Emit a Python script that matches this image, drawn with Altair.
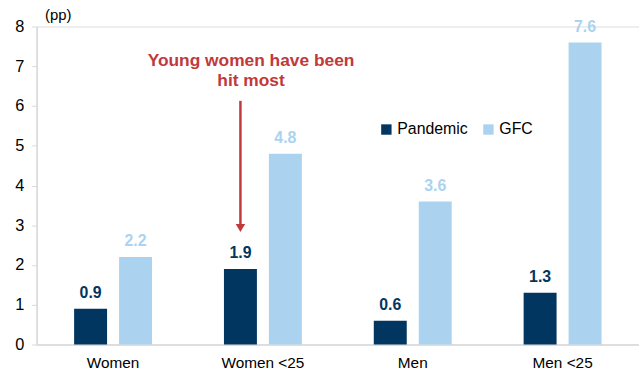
import altair as alt
import pandas as pd

categories = ["Women", "Women <25", "Men", "Men <25"]
series = ["Pandemic", "GFC"]
pandemic = [0.9, 1.9, 0.6, 1.3]
gfc = [2.2, 4.8, 3.6, 7.6]
colors = ["#003660", "#abd3f0"]

rows = []
for c, p, g in zip(categories, pandemic, gfc):
    rows.append({"cat": c, "series": "Pandemic", "value": p, "label": f"{p:.1f}"})
    rows.append({"cat": c, "series": "GFC", "value": g, "label": f"{g:.1f}"})
df = pd.DataFrame(rows)

FONT = "Liberation Sans"

x_enc = alt.X("cat:N", sort=categories,
              scale=alt.Scale(paddingInner=0.48, paddingOuter=0.25),
              axis=alt.Axis(title=None, labelAngle=0, ticks=False, domainColor="#d9d9d9",
                            domainWidth=1.5, labelFontSize=15.5, labelFont=FONT,
                            labelColor="#000000", labelPadding=11))
xoff = alt.XOffset("series:N", sort=series,
                   scale=alt.Scale(paddingInner=0.267, paddingOuter=0))
y_scale = alt.Scale(domain=[0, 8])
color_enc = alt.Color("series:N", sort=series,
                      scale=alt.Scale(domain=series, range=colors),
                      legend=alt.Legend(title=None, orient="none", legendX=345, legendY=96,
                                        direction="horizontal", symbolType="square",
                                        symbolSize=110, symbolStrokeWidth=0,
                                        labelFontSize=16, labelFont=FONT, labelColor="#000000",
                                        columnPadding=12, labelOffset=3))

bars = alt.Chart(df).mark_bar().encode(
    x=x_enc, xOffset=xoff,
    y=alt.Y("value:Q", scale=y_scale,
            axis=alt.Axis(title="(pp)", titleAngle=0, titleAlign="left", titleX=8, titleY=-4,
                          titleFontWeight="normal", titleFontSize=15, titleFont=FONT,
                          titleColor="#000000", grid=False, values=list(range(9)),
                          tickColor="#d9d9d9", tickSize=5, domainColor="#d9d9d9",
                          domainWidth=1.5, labelFontSize=16.5, labelFont=FONT,
                          labelColor="#000000", labelPadding=8)),
    color=color_enc,
)

labels = alt.Chart(df).mark_text(fontWeight="bold", fontSize=16, font=FONT, dy=-16).encode(
    x=alt.X("cat:N", sort=categories), xOffset=xoff,
    y=alt.Y("value:Q", scale=y_scale),
    text="label:N",
    color=alt.Color("series:N", sort=series, scale=alt.Scale(domain=series, range=colors), legend=None),
)

ann_df = pd.DataFrame({"cat": ["Women <25"], "series": ["Pandemic"], "y": [7.12],
                       "y1": [6.13], "y2": [3.0], "tip": [2.93],
                       "text": [["Young women have been", "hit most"]]})

ann_text = alt.Chart(ann_df).mark_text(color="#c0393b", fontWeight="bold", fontSize=17.5,
                                       font=FONT, dx=-12, lineHeight=20, baseline="middle").encode(
    x=alt.X("cat:N", sort=categories), y=alt.Y("y:Q", scale=y_scale), text="text")

arrow = alt.Chart(ann_df).mark_rule(color="#c0393b", strokeWidth=2.5).encode(
    x=alt.X("cat:N", sort=categories), xOffset=alt.XOffset("series:N", sort=series),
    y=alt.Y("y1:Q", scale=y_scale), y2="y2:Q")

head = alt.Chart(ann_df).mark_point(shape="triangle-down", filled=True, color="#c0393b",
                                    size=90, opacity=1).encode(
    x=alt.X("cat:N", sort=categories), xOffset=alt.XOffset("series:N", sort=series),
    y=alt.Y("tip:Q", scale=y_scale))

chart = alt.layer(bars, labels, arrow, head, ann_text).properties(
    width=608, height=321,
    autosize=alt.AutoSizeParams(type="none"),
    padding={"left": 37, "top": 25, "right": 0, "bottom": 26},
).configure_view(stroke=None).configure(background="white")

chart.save("out.html", embed_options={"renderer": "svg", "actions": False})
